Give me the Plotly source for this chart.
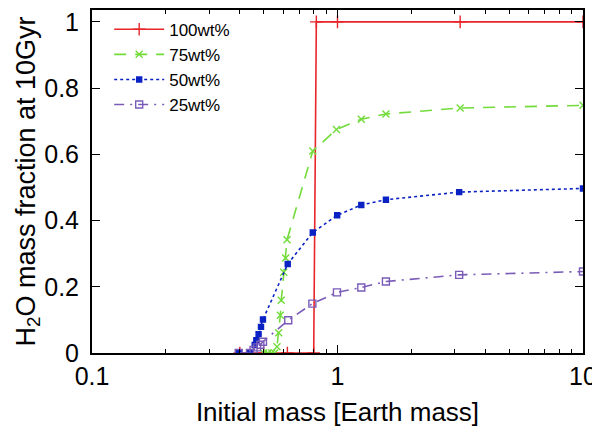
import plotly.graph_objects as go

# Water mass fraction after 10 Gyr vs. initial planet mass
mass_100 = [0.40, 0.50, 0.625, 0.80, 0.82, 1.0, 3.16, 10.0]
frac_100 = [0, 0, 0, 0, 1, 1, 1, 1]

mass_75 = [0.50, 0.52, 0.54, 0.555, 0.567, 0.576, 0.585, 0.59, 0.604, 0.615,
           0.623, 0.793, 0.99, 1.25, 1.575, 3.16, 10.0]
frac_75 = [0, 0, 0, 0, 0.019, 0.061, 0.114, 0.159, 0.244, 0.287,
           0.342, 0.61, 0.675, 0.706, 0.722, 0.74, 0.748]

mass_50 = [0.396, 0.44, 0.46, 0.467, 0.477, 0.488, 0.497, 0.627, 0.793,
           0.997, 1.25, 1.575, 3.13, 10.0]
frac_50 = [0, 0, 0.024, 0.039, 0.057, 0.079, 0.101, 0.269, 0.364,
           0.416, 0.447, 0.463, 0.486, 0.497]

mass_25 = [0.396, 0.44, 0.455, 0.47, 0.485, 0.497, 0.63, 0.79, 0.995,
           1.25, 1.575, 3.13, 10.0]
frac_25 = [0, 0, 0.009, 0.017, 0.025, 0.034, 0.099, 0.149, 0.183,
           0.198, 0.216, 0.236, 0.246]

FONT = "Liberation Sans, Arial, sans-serif"

fig = go.Figure()

series = [
    ("100wt%", mass_100, frac_100, "#e8262a", "solid", "cross-thin", 9),
    ("75wt%", mass_75, frac_75, "#72dc3a", "12px,9px", "x-thin", 7),
    ("50wt%", mass_50, frac_50, "#0a22c4", "3px,3px", "square", 5),
    ("25wt%", mass_25, frac_25, "#7a5cb8", "10px,6px,2px,6px", "square-open", 7),
]

for name, xs, ys, color, dash, symbol, size in series:
    fig.add_trace(
        go.Scatter(
            x=xs,
            y=ys,
            mode="lines+markers",
            name=name,
            line=dict(color=color, width=1.6, dash=dash),
            marker=dict(symbol=symbol, size=size, color=color,
                        line=dict(color=color, width=1.4)),
        )
    )

# the page body adds an 8px margin, so the figure is 8px smaller than the window
fig.update_layout(
    width=592,
    height=430,
    margin=dict(l=84, r=17, t=0, b=85),
    plot_bgcolor="white",
    paper_bgcolor="white",
    font=dict(family=FONT, color="black"),
    showlegend=True,
    legend=dict(
        x=0.035, y=0.995, xanchor="left", yanchor="top",
        bgcolor="rgba(255,255,255,0)",
        font=dict(size=17, family=FONT),
        tracegroupgap=0,
        itemwidth=50,
    ),
)

fig.update_xaxes(
    type="log",
    range=[-1, 1],
    tickvals=[0.1, 1, 10],
    ticktext=["0.1", "1", "10"],
    ticks="inside",
    ticklen=8,
    tickwidth=1,
    tickcolor="black",
    minor=dict(ticks="inside", ticklen=4, tickcolor="black", dtick="D1", showgrid=False),
    showline=True,
    linecolor="black",
    linewidth=2,
    mirror="allticks",
    showgrid=False,
    zeroline=False,
    tickfont=dict(size=25),
    ticklabelstandoff=0,
    ticklabeloverflow="allow",
    title=dict(text="Initial mass [Earth mass]", font=dict(size=26), standoff=14),
)

fig.update_yaxes(
    range=[0, 1.036],
    tickvals=[0, 0.2, 0.4, 0.6, 0.8, 1],
    ticktext=["0", "0.2", "0.4", "0.6", "0.8", "1"],
    ticks="inside",
    ticklen=8,
    tickwidth=1,
    tickcolor="black",
    showline=True,
    linecolor="black",
    linewidth=2,
    mirror="allticks",
    showgrid=False,
    zeroline=False,
    tickfont=dict(size=25),
    ticklabelstandoff=6,
    ticklabeloverflow="allow",
    title=dict(text="H<sub>2</sub>O mass fraction at 10Gyr", font=dict(size=27), standoff=0),
)

fig.write_html("out.html")
